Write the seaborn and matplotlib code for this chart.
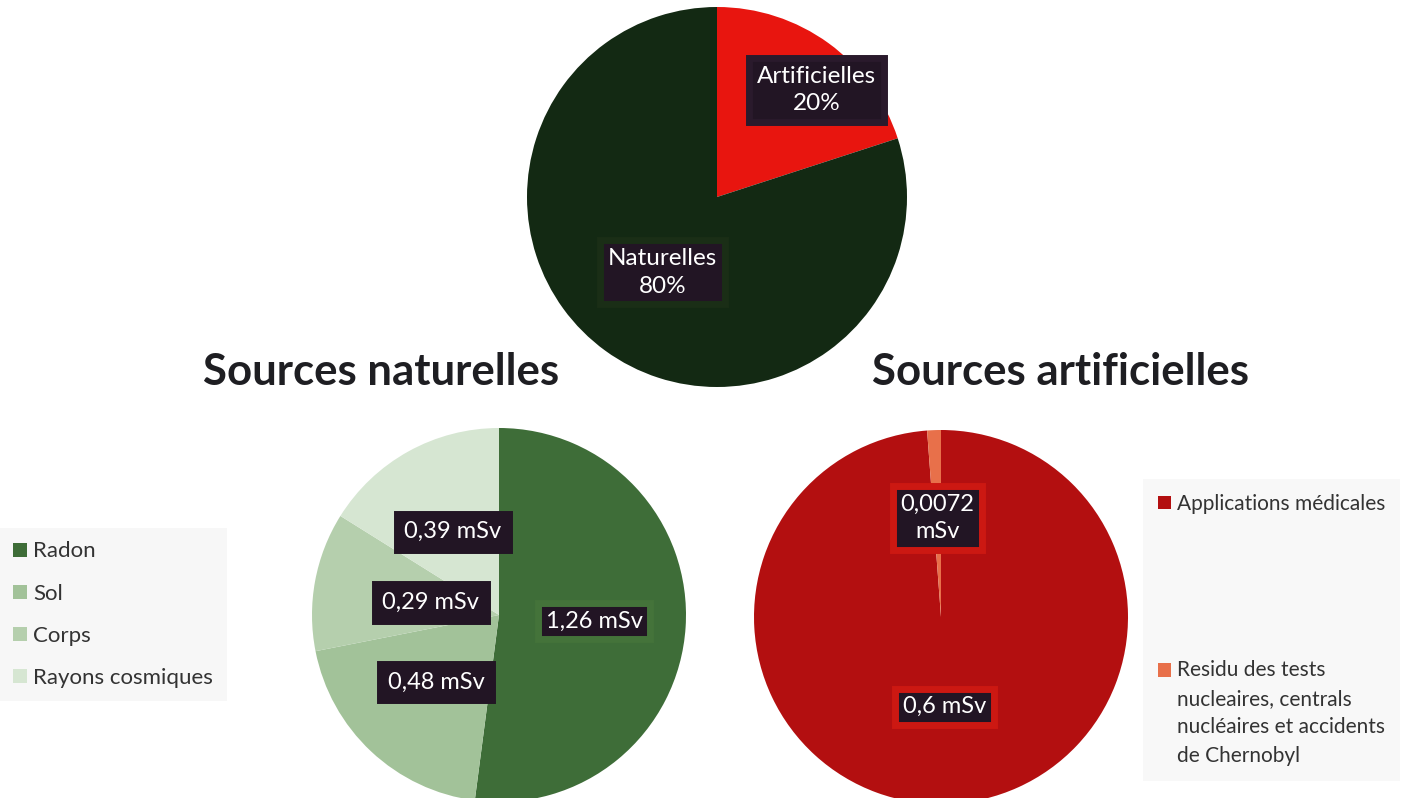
import numpy as np
import matplotlib
matplotlib.use("Agg")
import matplotlib.pyplot as plt
import matplotlib.patches as mpatches
from matplotlib.legend_handler import HandlerPatch
import seaborn as sns

# -------------------------- données --------------------------
top_labels = ["Artificielles", "Naturelles"]
top_values = [20, 80]
top_colors = ["#e8150f", "#132913"]
top_dist = [0.77, 0.49]
top_turn = [-7, 0]

nat_labels = ["Radon", "Sol", "Corps", "Rayons cosmiques"]
nat_values = [1.26, 0.48, 0.29, 0.39]
nat_colors = ["#3e6d38", "#a2c299", "#b5cfad", "#d6e6d2"]
nat_dist = [0.51, 0.49, 0.37, 0.51]

art_labels = ["Applications médicales",
              "Residu des tests\nnucleaires, centrals\nnucléaires et accidents\nde Chernobyl"]
art_values = [0.6, 0.0072]
art_colors = ["#b30f10", "#e8704a"]
art_dist = [0.48, 0.53]

W, H = 1405, 798
BOX = "#221524"
LEG_LS = 1.55

sns.set_theme(style="white")
plt.rcParams['font.family'] = ['Lato', 'DejaVu Sans']

fig = plt.figure(figsize=(W / 100, H / 100), dpi=100)
fig.patch.set_facecolor("white")


def pie_axes(cx, cy, r):
    ax = fig.add_axes([(cx - r) / W, (H - cy - r) / H, 2 * r / W, 2 * r / H])
    ax.axis("off")
    return ax


def fmt_msv(v):
    s = ("%g" % v).replace(".", ",")
    sep = "\n" if len(s) > 4 else " "
    return s + sep + "mSv"


def draw_labels(ax, wedges, texts, dists, glow, fs=17, turn=None):
    turn = turn or [0] * len(wedges)
    for w, t, d, g, a in zip(wedges, texts, dists, glow, turn):
        th = np.deg2rad((w.theta1 + w.theta2) / 2 + a)
        ax.text(d * np.cos(th), d * np.sin(th), t, ha="center", va="center",
                color="white", fontsize=fs, linespacing=1.4,
                bbox=dict(boxstyle="square,pad=0.32", fc=BOX,
                          ec=g if g else BOX, lw=5))


# carré de légende calé sur la première ligne du libellé
class FirstLineHandler(HandlerPatch):
    def __init__(self, nlines=1):
        super().__init__()
        self.shift = (nlines - 1) / 2 * LEG_LS * 0.9

    def create_artists(self, legend, orig_handle, xdescent, ydescent, width,
                       height, fontsize, trans):
        p = mpatches.Rectangle((-xdescent, -ydescent + self.shift * fontsize),
                               width, height,
                               facecolor=orig_handle.get_facecolor(),
                               edgecolor="none", transform=trans)
        return [p]


# -------------------------- camembert du haut --------------------------
ax0 = pie_axes(717, 197, 190)
w0, _ = ax0.pie(top_values, colors=top_colors, startangle=90, counterclock=False,
                wedgeprops=dict(linewidth=0))
ax0.set_xlim(-1, 1)
ax0.set_ylim(-1, 1)
draw_labels(ax0, w0, [f"{l}\n{v}%" for l, v in zip(top_labels, top_values)],
            top_dist, ["#2a1a2c", "#1a2e16"], fs=17.5, turn=top_turn)

# -------------------------- sources naturelles --------------------------
ax1 = pie_axes(499, 615, 187)
w1, _ = ax1.pie(nat_values, colors=nat_colors, startangle=90, counterclock=False,
                wedgeprops=dict(linewidth=0))
ax1.set_xlim(-1, 1)
ax1.set_ylim(-1, 1)
draw_labels(ax1, w1, [fmt_msv(v) for v in nat_values], nat_dist,
            ["#44733a", None, None, None])
leg1 = fig.legend(w1, nat_labels, loc="upper left", bbox_to_anchor=(-11 / W, 1 - 517 / H),
                  fontsize=16, frameon=True, facecolor="#f6f6f6", edgecolor="none",
                  handlelength=0.6, handleheight=0.6, handletextpad=0.3,
                  labelspacing=1.0, borderpad=0.6, fancybox=False)
for t in leg1.get_texts():
    t.set_color("#333333")

# -------------------------- sources artificielles --------------------------
ax2 = pie_axes(941, 617, 187)
w2, _ = ax2.pie(art_values, colors=art_colors, startangle=90, counterclock=False,
                wedgeprops=dict(linewidth=0))
ax2.set_xlim(-1, 1)
ax2.set_ylim(-1, 1)
draw_labels(ax2, w2, [fmt_msv(v) for v in art_values], art_dist,
            ["#cc1812", "#cc1812"])
leg2 = fig.legend(w2, art_labels, loc="upper left", bbox_to_anchor=(1133 / W, 1 - 469 / H),
                  fontsize=15, frameon=True, facecolor="#f7f7f7", edgecolor="none",
                  handlelength=0.6, handleheight=0.6, handletextpad=0.3,
                  labelspacing=7.0, borderpad=0.7, fancybox=False,
                  handler_map={w: FirstLineHandler(l.count("\n") + 1)
                               for w, l in zip(w2, art_labels)})
for t in leg2.get_texts():
    t.set_color("#333333")
    t.set_linespacing(LEG_LS)

# -------------------------- titres --------------------------
fig.text(381 / W, 1 - 372 / H, "Sources naturelles", ha="center", va="center",
         fontsize=31.5, fontweight="bold", color="#1e1e22")
fig.text(1061 / W, 1 - 372 / H, "Sources artificielles", ha="center", va="center",
         fontsize=31.5, fontweight="bold", color="#1e1e22")

fig.savefig("out.png", dpi=100)
